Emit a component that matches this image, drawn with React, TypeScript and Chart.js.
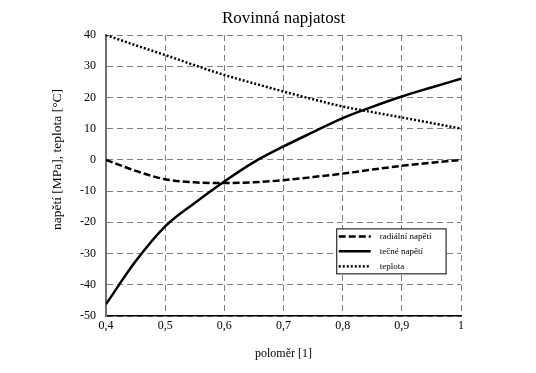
import React, { useEffect, useRef } from "react";
import { Chart, registerables } from "chart.js";

Chart.register(...registerables);

const radius = [0.4, 0.45, 0.5, 0.55, 0.6, 0.65, 0.7, 0.75, 0.8, 0.85, 0.9, 0.95, 1.0];
const radialStress = [0, -3.5, -6.2, -7.2, -7.4, -7.2, -6.5, -5.5, -4.4, -3.1, -1.9, -0.9, 0];
const tangentialStress = [-46.2, -32.5, -21.3, -13.8, -6.9, -0.7, 4.3, 8.9, 13.4, 17.0, 20.3, 23.2, 26.0];
const temperature = [40, 36.7, 33.6, 30.3, 27.2, 24.5, 21.9, 19.4, 17.1, 15.3, 13.6, 11.8, 10];

const titleText = "Rovinná napjatost";
const xTitle = "poloměr [1]";
const yTitle = "napětí [MPa], teplota [°C]";
const seriesNames = ["radiální napětí", "tečné napětí", "teplota"];

const FONT = "'Liberation Serif', 'Times New Roman', serif";

const toPts = (ys: number[]) => radius.map((x, i) => ({ x, y: ys[i] }));

const textPlugin = {
  id: "texts",
  afterDraw(chart: any) {
    const { ctx, chartArea } = chart;
    const h = chartArea.bottom - chartArea.top;
    ctx.save();
    ctx.fillStyle = "#000";
    ctx.textAlign = "center";
    ctx.textBaseline = "middle";
    ctx.font = `17px ${FONT}`;
    ctx.fillText(titleText, (chartArea.left + chartArea.right) / 2, 19);
    ctx.translate(57, chartArea.top + h * 0.443);
    ctx.rotate(-Math.PI / 2);
    ctx.font = `13.5px ${FONT}`;
    ctx.fillText(yTitle, 0, 0);
    ctx.restore();
  },
};

const legendPlugin = {
  id: "innerLegend",
  afterDatasetsDraw(chart: any) {
    const { ctx, chartArea } = chart;
    const w = chartArea.right - chartArea.left;
    const h = chartArea.bottom - chartArea.top;
    const left = chartArea.left + w * 0.650;
    const right = chartArea.left + w * 0.958;
    const top = chartArea.top + h * 0.690;
    const bottom = chartArea.top + h * 0.850;
    ctx.save();
    ctx.fillStyle = "#ffffff";
    ctx.fillRect(left, top, right - left, bottom - top);
    ctx.strokeStyle = "#000";
    ctx.lineWidth = 1;
    ctx.setLineDash([]);
    ctx.strokeRect(left, top, right - left, bottom - top);
    const dashes = [[7, 3], [], [2, 2]];
    const rowH = (bottom - top) / 3;
    for (let i = 0; i < 3; i++) {
      const y = top + rowH * (i + 0.5);
      ctx.beginPath();
      ctx.setLineDash(dashes[i]);
      ctx.lineWidth = 2.5;
      ctx.moveTo(left + 2, y);
      ctx.lineTo(left + 34, y);
      ctx.stroke();
      ctx.setLineDash([]);
      ctx.fillStyle = "#000";
      ctx.font = `9px ${FONT}`;
      ctx.textBaseline = "middle";
      ctx.textAlign = "left";
      ctx.fillText(seriesNames[i], left + 43, y);
    }
    ctx.restore();
  },
};

export default function App() {
  const ref = useRef<HTMLCanvasElement | null>(null);
  useEffect(() => {
    if (!ref.current) return;
    const chart = new Chart(ref.current, {
      type: "line",
      data: {
        datasets: [
          {
            label: seriesNames[0],
            data: toPts(radialStress),
            borderColor: "#000",
            borderWidth: 2.5,
            borderDash: [7, 3],
            pointRadius: 0,
            cubicInterpolationMode: "monotone",
          },
          {
            label: seriesNames[1],
            data: toPts(tangentialStress),
            borderColor: "#000",
            borderWidth: 2.5,
            pointRadius: 0,
            cubicInterpolationMode: "monotone",
          },
          {
            label: seriesNames[2],
            data: toPts(temperature),
            borderColor: "#000",
            borderWidth: 2.5,
            borderDash: [2, 2],
            pointRadius: 0,
            cubicInterpolationMode: "monotone",
          },
        ],
      },
      options: {
        responsive: false,
        animation: false,
        layout: { padding: { left: 0, right: 75, top: 35, bottom: 0 } },
        plugins: {
          legend: { display: false },
          tooltip: { enabled: false },
          title: { display: false },
        },
        scales: {
          x: {
            type: "linear",
            min: 0.4,
            max: 1,
            afterFit: (s: any) => {
              s.height = 57;
              s.paddingLeft = 0;
              s.paddingRight = 0;
            },
            ticks: {
              stepSize: 0.1,
              color: "#000",
              padding: 3,
              font: { family: FONT, size: 12 },
              callback: (v: any) => String(Math.round(Number(v) * 10) / 10).replace(".", ","),
            },
            grid: { color: "#7f7f7f", lineWidth: 1, drawTicks: false },
            border: { display: true, color: "#000", width: 1.5, dash: [6, 4] },
            title: {
              display: true,
              text: xTitle,
              color: "#000",
              font: { family: FONT, size: 12 },
              padding: { top: 4, bottom: 12 },
            },
          },
          y: {
            min: -50,
            max: 40,
            afterFit: (s: any) => {
              s.width = 106;
              s.paddingTop = 0;
              s.paddingBottom = 0;
            },
            ticks: {
              stepSize: 10,
              color: "#000",
              padding: 10,
              font: { family: FONT, size: 12 },
            },
            grid: { color: "#7f7f7f", lineWidth: 1, drawTicks: false },
            border: { display: true, color: "#6f6f6f", width: 2, dash: [6, 4] },
            title: { display: false },
          },
        },
      },
      plugins: [legendPlugin, textPlugin],
    } as any);
    return () => chart.destroy();
  }, []);
  return (
    <div style={{ position: "absolute", left: 0, top: 0, width: 536, height: 373, background: "#fff" }}>
      <canvas ref={ref} width={536} height={373} style={{ display: "block" }} />
    </div>
  );
}
